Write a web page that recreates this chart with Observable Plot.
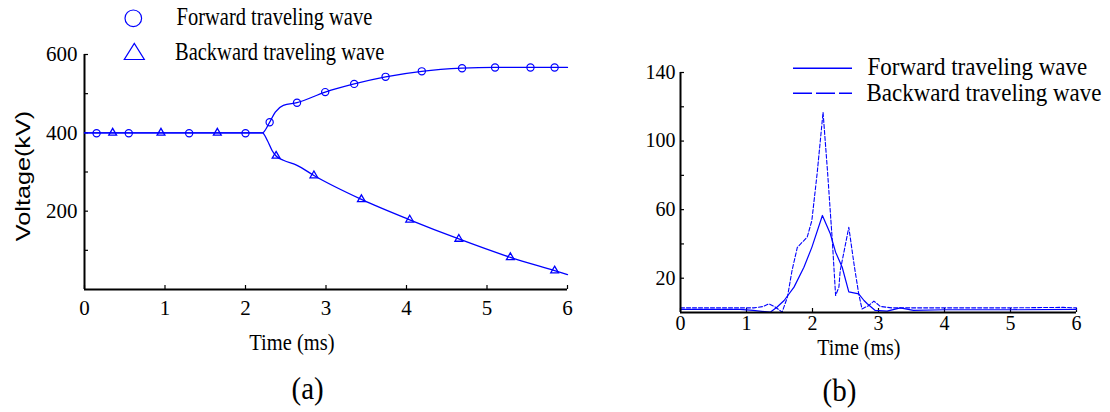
<!DOCTYPE html>
<html>
<head>
<meta charset="utf-8">
<script src="https://cdn.jsdelivr.net/npm/d3@7"></script>
<script src="https://cdn.jsdelivr.net/npm/@observablehq/plot@0.6"></script>
<style>
  html, body { margin: 0; padding: 0; background: #fff; }
  #fig { position: relative; width: 1110px; height: 412px; background: #fff; overflow: hidden; }
  .panel { position: absolute; top: 0; }
  #pa svg text { font-family: "Liberation Serif", "Times New Roman", serif !important; font-size: 21px !important; fill: #000; }
  #pb svg text { font-family: "Liberation Serif", "Times New Roman", serif !important; font-size: 20px !important; fill: #000; }
  .t { position: absolute; white-space: nowrap; line-height: 1; color: #000; font-family: "Liberation Serif", "Times New Roman", serif; transform-origin: left center; }
  #overlay { position: absolute; left: 0; top: 0; }
</style>
</head>
<body>
<div id="fig">
  <div id="pa" class="panel" style="left:0px"></div>
  <div id="pb" class="panel" style="left:600px"></div>
  <svg id="overlay" width="1110" height="412">
    <circle cx="133.3" cy="18.3" r="8.3" fill="none" stroke="#0000ff" stroke-width="1.2"></circle>
    <polygon points="124.3,59.5 144.3,59.5 134.3,43.5" fill="none" stroke="#0000ff" stroke-width="1.2"></polygon>
    <line x1="793" y1="68.3" x2="852" y2="68.3" stroke="#0000ff" stroke-width="1.6"></line>
    <line x1="793" y1="93.3" x2="852" y2="93.3" stroke="#0000ff" stroke-width="1.6" stroke-dasharray="19,4"></line>
  </svg>
  <div class="t" style="left:176.5px; top:17.2px; font-size:20.5px; transform: translateY(-50%) scaleY(1.2);">Forward traveling wave</div>
  <div class="t" style="left:175px; top:51.7px; font-size:20.5px; transform: translateY(-50%) scaleY(1.2);">Backward traveling wave</div>
  <div class="t" style="left:867.5px; top:67.2px; font-size:23px; transform: translateY(-50%) scaleY(1.12);">Forward traveling wave</div>
  <div class="t" style="left:866.5px; top:93.3px; font-size:23px; transform: translateY(-50%) scaleY(1.12);">Backward traveling wave</div>
  <div class="t" style="left:249.3px; top:342.2px; font-size:20.5px; transform: translateY(-50%) scaleY(1.15);">Time (ms)</div>
  <div class="t" style="left:817.3px; top:347.2px; font-size:20px; transform: translateY(-50%) scaleY(1.15);">Time (ms)</div>
  <div class="t" style="left:291.5px; top:387.5px; font-size:29px; transform: translateY(-50%) scaleY(1.12);">(a)</div>
  <div class="t" style="left:822.5px; top:389.5px; font-size:29px; transform: translateY(-50%) scaleY(1.12);">(b)</div>
  <div class="t" style="left:22.5px; top:175.8px; font-size:20px; font-family:'Liberation Sans', Arial, sans-serif; transform-origin: center center; transform: translate(-50%,-50%) rotate(-90deg) scaleX(1.26);">Voltage(kV)</div>
</div>
<script>
// ---------- Panel (a): voltage of traveling waves ----------
const forwardT = [0, 2.21, 2.30, 2.37, 2.47, 2.64, 2.99, 3.35, 3.74, 4.19, 4.69, 5.10, 5.54, 5.84, 6.0];
const forwardV = [400, 400, 427, 453, 470, 477, 504, 525, 543, 557, 565, 567, 567, 567, 567];
const forwardMarkT = [0.15, 0.55, 1.30, 2.0, 2.30, 2.64, 2.99, 3.35, 3.74, 4.19, 4.69, 5.10, 5.54, 5.84];
const forwardMarkV = [399, 399, 399, 399, 427, 477, 504, 525, 543, 557, 565, 567, 567, 567];
const backwardT = [0, 2.21, 2.27, 2.33, 2.38, 2.47, 2.64, 2.85, 3.44, 4.04, 4.65, 5.29, 5.84, 6.0];
const backwardV = [400, 400, 381, 355, 341, 330, 317, 291, 230, 178, 129, 82, 48, 38];
const backwardMarkT = [0.35, 0.95, 1.65, 2.38, 2.85, 3.44, 4.04, 4.65, 5.29, 5.84];
const backwardMarkV = [400, 400, 400, 341, 291, 230, 178, 129, 82, 48];
const xTicksA = [0, 1, 2, 3, 4, 5, 6];
const yTicksA = [100, 200, 300, 400, 500, 600];
const yLabelsA = [200, 400, 600];

// ---------- Panel (b): difference waves ----------
const fwdBT = [0, 0.9, 1.1, 1.36, 1.46, 1.57, 1.72, 1.87, 1.99, 2.15, 2.27, 2.35, 2.45, 2.55, 2.70, 2.78, 2.83, 2.95, 3.13, 3.33, 3.53, 4.0, 5.0, 6.0];
const fwdBV = [1.8, 1.8, 1.2, 0.2, 3.1, 7, 14.8, 26.4, 38, 56.6, 45.9, 35.2, 26.4, 12, 10.9, 7, 5.1, 1.2, 0.8, 2.7, 1.2, 1.6, 1.6, 1.8];
const bwdBT = [0, 1.11, 1.25, 1.34, 1.44, 1.54, 1.62, 1.69, 1.77, 1.92, 1.99, 2.07, 2.16, 2.23, 2.30, 2.35, 2.40, 2.42, 2.47, 2.55, 2.63, 2.70, 2.75, 2.85, 2.93, 3.03, 3.2, 4.0, 5.0, 5.8, 6.0];
const bwdBV = [2.7, 2.7, 3.5, 5.1, 3.1, 0.2, 9, 24.5, 38, 44, 53.6, 81, 116.8, 81, 42, 9.9, 14.8, 24.5, 34, 49.7, 28, 10.9, 2.1, 4, 6.6, 3.5, 2.7, 2.7, 2.7, 3.0, 2.7];
const xTicksB = [0, 1, 2, 3, 4, 5, 6];
const yTicksB = [20, 40, 60, 80, 100, 120, 140];
const yLabelsB = [20, 60, 100, 140];

const zip = (ts, vs) => ts.map((t, i) => ({t, v: vs[i]}));
const blue = "#0000ff";
const serif = "Liberation Serif";

const plotA = Plot.plot({
  width: 600, height: 412,
  marginLeft: 84, marginRight: 33, marginTop: 54, marginBottom: 123,
  x: {domain: [0, 6]},
  y: {domain: [0, 600]},
  style: {background: "transparent", overflow: "visible"},
  marks: [
    Plot.axisX({ticks: xTicksA, tickSize: -4, tickPadding: 15, label: null, stroke: "#000", strokeWidth: 1.2,
      fontFamily: serif, tickFormat: d => String(d)}),
    Plot.axisY({ticks: yTicksA, tickSize: -4, tickPadding: 11, label: null, stroke: "#000", strokeWidth: 1.2,
      fontFamily: serif, tickFormat: d => yLabelsA.includes(d) ? String(d) : ""}),
    Plot.ruleY([0], {stroke: "#000", strokeWidth: 2}),
    Plot.ruleX([0], {stroke: "#000", strokeWidth: 2}),
    Plot.line(zip(forwardT, forwardV), {x: "t", y: "v", stroke: blue, strokeWidth: 1.3, curve: "monotone-x"}),
    Plot.line(zip(backwardT, backwardV), {x: "t", y: "v", stroke: blue, strokeWidth: 1.3, curve: "monotone-x"}),
    Plot.dot(zip(forwardMarkT, forwardMarkV), {x: "t", y: "v", r: 3.6, stroke: blue, strokeWidth: 1.2, fill: "none", symbol: "circle"}),
    Plot.dot(zip(backwardMarkT, backwardMarkV), {x: "t", y: "v", r: 2.9, stroke: blue, strokeWidth: 1.3, fill: "none", symbol: "triangle"})
  ]
});
document.getElementById("pa").appendChild(plotA);

const plotB = Plot.plot({
  width: 510, height: 412,
  marginLeft: 80, marginRight: 34, marginTop: 72, marginBottom: 100,
  x: {domain: [0, 6]},
  y: {domain: [0, 140]},
  style: {background: "transparent", overflow: "visible"},
  marks: [
    Plot.axisX({ticks: xTicksB, tickSize: -4, tickPadding: 7.5, label: null, stroke: "#000", strokeWidth: 1.2,
      fontFamily: serif, tickFormat: d => String(d)}),
    Plot.axisY({ticks: yTicksB, tickSize: -4, tickPadding: 9, label: null, stroke: "#000", strokeWidth: 1.2,
      fontFamily: serif, tickFormat: d => yLabelsB.includes(d) ? String(d) : ""}),
    Plot.line(zip(fwdBT, fwdBV), {x: "t", y: "v", stroke: blue, strokeWidth: 1.2}),
    Plot.line(zip(bwdBT, bwdBV), {x: "t", y: "v", stroke: blue, strokeWidth: 1.1, strokeDasharray: "4,2"}),
    Plot.ruleY([0], {stroke: "#000", strokeWidth: 2}),
    Plot.ruleX([0], {stroke: "#000", strokeWidth: 2})
  ]
});
document.getElementById("pb").appendChild(plotB);
</script>
</body>
</html>
